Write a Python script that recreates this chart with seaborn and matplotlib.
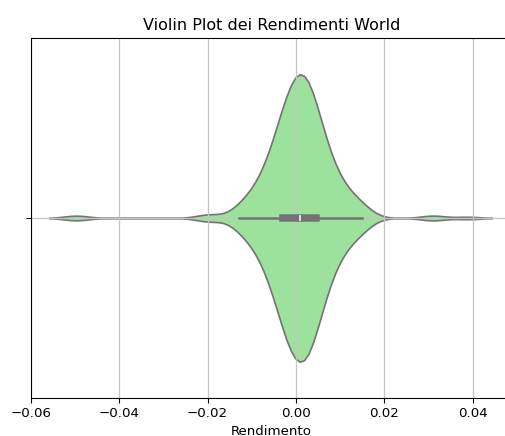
import numpy as np
import pandas as pd
import matplotlib
matplotlib.use("Agg")
import matplotlib.pyplot as plt
import seaborn as sns

# Daily returns, stored as value -> number of days
return_values = [-0.013, -0.012, -0.011, -0.010, -0.009, -0.008, -0.007, -0.006,
                 -0.005, -0.004, -0.003, -0.002, -0.001, 0.000, 0.001, 0.002,
                 0.003, 0.004, 0.005, 0.006, 0.007, 0.008, 0.009, 0.010,
                 0.011, 0.012, 0.013, 0.014, 0.015, 0.016]
return_counts = [3, 3, 2, 3, 4, 5, 6, 7,
                 9, 12, 14, 16, 18, 19, 20, 21,
                 19, 17, 13, 10, 8, 7, 6, 5,
                 3, 3, 3, 3, 2, 2]
# isolated extreme days
tail_returns = [-0.0505, -0.049, -0.0208, -0.0196, -0.0187, 0.0305, 0.0315, 0.039]

title = "Violin Plot dei Rendimenti World"
xlabel = "Rendimento"
xticks = [-0.06, -0.04, -0.02, 0.00, 0.02, 0.04]

rendimenti = np.concatenate([np.repeat(return_values, return_counts), tail_returns])
df = pd.DataFrame({"Rendimento": rendimenti})

dpi = 96
fig = plt.figure(figsize=(505 / dpi, 436 / dpi), dpi=dpi)
ax = fig.add_axes([31 / 505, 38.3 / 436, 480.4 / 505, 359.4 / 436])

sns.violinplot(data=df, x="Rendimento", color="lightgreen", ax=ax)

ax.set_xlim(-0.06, 0.0488)
ax.set_xticks(xticks)
ax.set_title(title)
ax.set_xlabel(xlabel)
ax.grid(True, color="#c4c4c4", linewidth=1.0)

fig.savefig("out.png", dpi=dpi)
